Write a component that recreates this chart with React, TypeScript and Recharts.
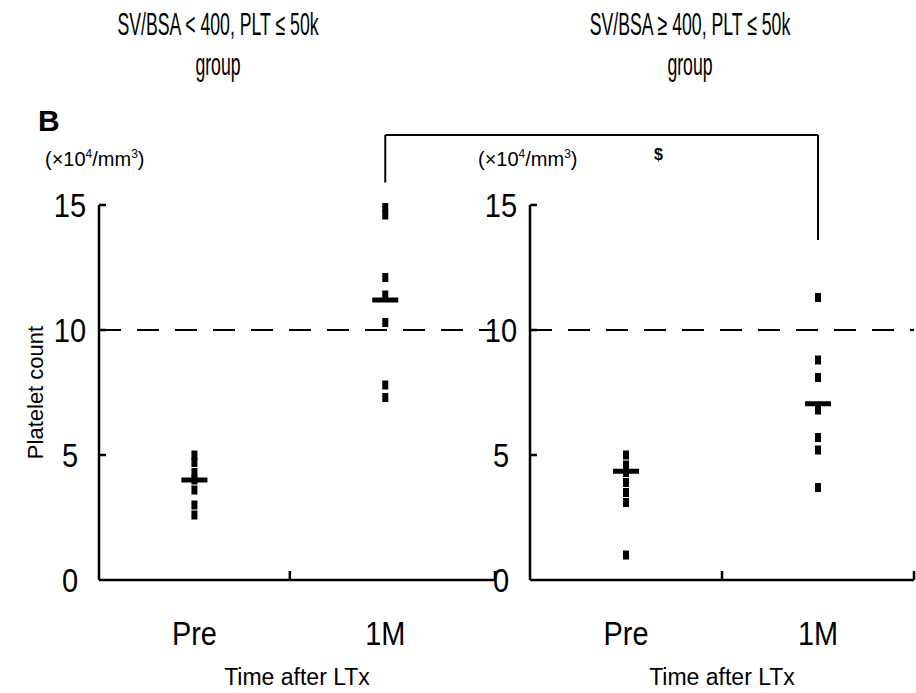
import { ScatterChart, Scatter, XAxis, YAxis, ReferenceLine } from 'recharts';

// categories and axis ticks
const groups = ['Pre', '1M'];
const groupX = [1, 3];
const yTicks = [0, 5, 10, 15];
const midMark = 2;

// SV/BSA < 400, PLT <= 50k group (x10^4/mm^3)
const lowPre = [5.0, 4.7, 4.3, 4.0, 3.6, 3.0, 2.6];
const low1M = [14.9, 14.6, 12.1, 11.4, 10.3, 7.8, 7.3];
const lowMeans = [4.0, 11.2];

// SV/BSA >= 400, PLT <= 50k group
const highPre = [5.0, 4.6, 4.3, 3.9, 3.5, 3.1, 1.0];
const high1M = [11.3, 8.8, 8.1, 6.8, 5.7, 5.2, 3.7];
const highMeans = [4.35, 7.05];

const threshold = 10;
const bracketTop = 17.8;
const bracketLeftEnd = 15.9;
const bracketRightEnd = 13.6;

const W = 916;
const H = 693;
const PLOT_TOP = 205;
const Y_AXIS_W = 70;
const X_AXIS_H = 108;
const LEFT = { x0: 99, x1: 495, xMax: 4.15 };
const RIGHT = { x0: 530, x1: 914, xMax: 4 };
const FONT = '"Liberation Sans", Arial, sans-serif';

const toPoints = (gi: number, values: number[]) => values.map((v) => ({ x: groupX[gi], y: v }));
const toMeans = (means: number[]) => means.map((v, i) => ({ x: groupX[i], y: v }));

const PointMark = (p: any) => (
  <rect x={p.cx - 3} y={p.cy - 4.5} width={6} height={9} fill="#000" />
);
const MeanMark = (p: any) => (
  <rect x={p.cx - 13} y={p.cy - 2.5} width={26} height={5} fill="#000" />
);

// category labels under the axis, small inward tick marks between them
function XTick(props: any) {
  const { x, y, payload } = props;
  const idx = groupX.indexOf(payload.value);
  if (idx >= 0) {
    return (
      <text transform={`translate(${x},${y + 65}) scale(0.85,1)`} textAnchor="middle" fontSize={34} fill="#000">
        {groups[idx]}
      </text>
    );
  }
  return <line x1={x} x2={x} y1={y} y2={y - 9} stroke="#000" strokeWidth={2.5} />;
}

function YTick(props: any) {
  const { x, y, payload } = props;
  return (
    <g>
      <text transform={`translate(${x - 29},${y + 12}) scale(0.88,1)`} textAnchor="middle" fontSize={33} fill="#000">
        {payload.value}
      </text>
      {payload.value > 0 && <line x1={x} x2={x + 7} y1={y} y2={y} stroke="#000" strokeWidth={2.5} />}
    </g>
  );
}

function Panel({
  pre,
  oneM,
  means,
  x0,
  x1,
  xMax,
  yLabel,
  children,
}: {
  pre: number[];
  oneM: number[];
  means: number[];
  x0: number;
  x1: number;
  xMax: number;
  yLabel?: string;
  children?: React.ReactNode;
}) {
  return (
    <div style={{ position: 'absolute', left: 0, top: 0 }}>
      <ScatterChart
        width={W}
        height={H}
        margin={{ top: PLOT_TOP, right: W - x1, bottom: 5, left: x0 - Y_AXIS_W }}
      >
        <XAxis
          dataKey="x"
          type="number"
          domain={[0, xMax]}
          ticks={[...groupX, midMark, xMax]}
          interval={0}
          height={X_AXIS_H}
          tickLine={false}
          tickSize={0}
          tickMargin={0}
          tick={<XTick />}
          axisLine={{ stroke: '#000', strokeWidth: 2.5 }}
          label={{ value: 'Time after LTx', position: 'insideBottom', offset: 3, fontSize: 23, fill: '#000' }}
        />
        <YAxis
          dataKey="y"
          type="number"
          domain={[0, 15]}
          ticks={yTicks}
          interval={0}
          width={Y_AXIS_W}
          tickLine={false}
          tickSize={0}
          tickMargin={0}
          tick={<YTick />}
          axisLine={{ stroke: '#000', strokeWidth: 2.5 }}
          label={
            yLabel
              ? { value: yLabel, angle: -90, position: 'insideLeft', offset: 6, fontSize: 22, fill: '#000', style: { textAnchor: 'middle' } }
              : undefined
          }
        />
        <ReferenceLine y={threshold} stroke="#000" strokeWidth={2} strokeDasharray="22 16" />
        <Scatter data={toPoints(0, pre)} fill="#000" shape={PointMark} isAnimationActive={false} />
        <Scatter data={toPoints(1, oneM)} fill="#000" shape={PointMark} isAnimationActive={false} />
        <Scatter data={toMeans(means)} fill="#000" shape={MeanMark} isAnimationActive={false} />
        {children}
      </ScatterChart>
    </div>
  );
}

const textStyle: React.CSSProperties = { position: 'absolute', color: '#000', whiteSpace: 'nowrap' };

function Units({ left }: { left: number }) {
  return (
    <div style={{ ...textStyle, left, top: 147, fontSize: 20 }}>
      (×10<sup style={{ fontSize: 12 }}>4</sup>/mm<sup style={{ fontSize: 12 }}>3</sup>)
    </div>
  );
}

function Title({ cx, line1 }: { cx: number; line1: string }) {
  return (
    <div
      style={{
        ...textStyle,
        left: cx - 200,
        width: 400,
        top: 5,
        fontSize: 31,
        textAlign: 'center',
        lineHeight: '40px',
        transform: 'scaleX(0.57)',
        transformOrigin: 'center',
      }}
    >
      {line1}
      <br />
      group
    </div>
  );
}

export default function App() {
  // left-panel 1M position expressed in the right panel's x units, for the bracket
  const rightUnit = (RIGHT.x1 - RIGHT.x0) / RIGHT.xMax;
  const leftUnit = (LEFT.x1 - LEFT.x0) / LEFT.xMax;
  const bracketLeftX = (LEFT.x0 + groupX[1] * leftUnit - RIGHT.x0) / rightUnit;

  return (
    <div style={{ position: 'absolute', left: 0, top: 0, width: W, height: H, background: '#fff', fontFamily: FONT }}>
      <Title cx={218} line1="SV/BSA < 400, PLT ≤ 50k" />
      <Title cx={690} line1="SV/BSA ≥ 400, PLT ≤ 50k" />
      <div style={{ ...textStyle, left: 38, top: 104, fontSize: 30, fontWeight: 'bold' }}>B</div>
      <Units left={45} />
      <Units left={478} />
      <div style={{ ...textStyle, left: 654, top: 146, fontSize: 16, fontWeight: 'bold' }}>$</div>

      <Panel pre={lowPre} oneM={low1M} means={lowMeans} x0={LEFT.x0} x1={LEFT.x1} xMax={LEFT.xMax} yLabel="Platelet count" />
      <Panel pre={highPre} oneM={high1M} means={highMeans} x0={RIGHT.x0} x1={RIGHT.x1} xMax={RIGHT.xMax}>
        <ReferenceLine
          segment={[{ x: bracketLeftX, y: bracketTop }, { x: groupX[1], y: bracketTop }]}
          ifOverflow="visible"
          stroke="#000"
          strokeWidth={2}
        />
        <ReferenceLine
          segment={[{ x: bracketLeftX, y: bracketTop }, { x: bracketLeftX, y: bracketLeftEnd }]}
          ifOverflow="visible"
          stroke="#000"
          strokeWidth={2}
        />
        <ReferenceLine
          segment={[{ x: groupX[1], y: bracketTop }, { x: groupX[1], y: bracketRightEnd }]}
          ifOverflow="visible"
          stroke="#000"
          strokeWidth={2}
        />
      </Panel>
    </div>
  );
}
